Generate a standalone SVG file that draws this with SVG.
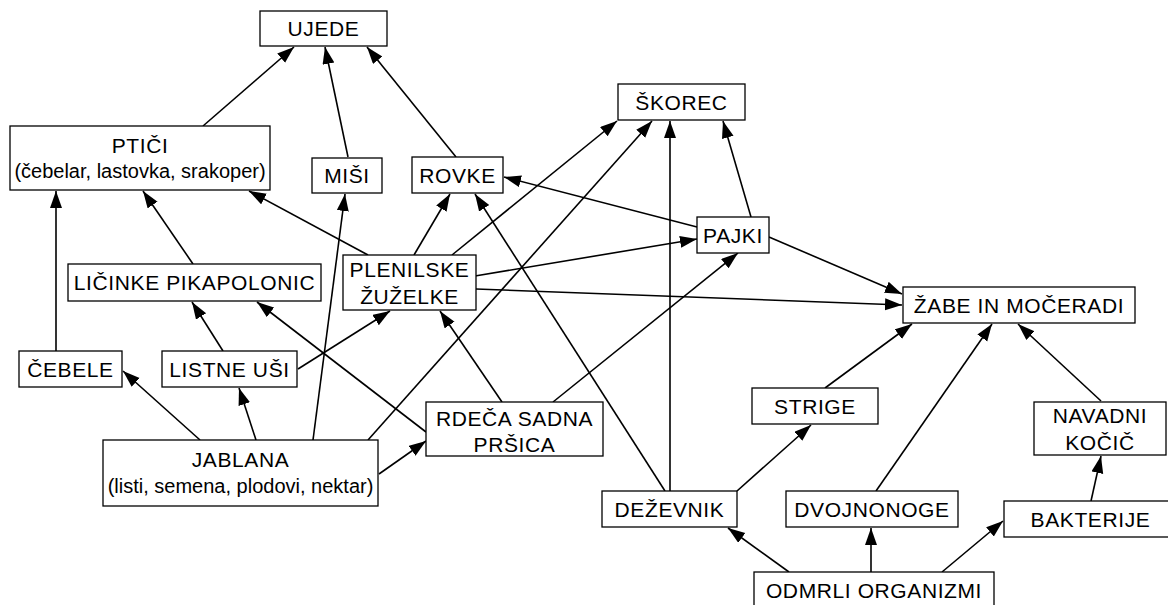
<svg xmlns="http://www.w3.org/2000/svg" width="1168" height="605" viewBox="0 0 1168 605">
<defs>
<marker id="ah" markerUnits="userSpaceOnUse" markerWidth="18" markerHeight="13" refX="17" refY="6" orient="auto">
<path d="M0,0 L17,6 L0,12 z" fill="#000"/>
</marker>
<style>
.n rect{fill:#fff;stroke:#000;stroke-width:1.3}
.n text{font-family:"Liberation Sans",Arial,sans-serif;font-size:21px;letter-spacing:0.6px;text-anchor:middle;fill:#000}
.n text.s{font-size:20px;letter-spacing:0}
#edges line{stroke:#000;stroke-width:1.6;marker-end:url(#ah)}
</style>
</defs>
<rect width="1168" height="605" fill="#fff"/>
<g id="edges">
<line x1="203" y1="126" x2="294" y2="47"/>
<line x1="348" y1="157" x2="325" y2="47"/>
<line x1="456" y1="157" x2="367" y2="47"/>
<line x1="56" y1="351" x2="56" y2="191"/>
<line x1="193" y1="264" x2="143" y2="191"/>
<line x1="368" y1="255" x2="249" y2="191"/>
<line x1="313" y1="440" x2="345" y2="194"/>
<line x1="414" y1="255" x2="450" y2="194"/>
<line x1="665" y1="491" x2="475" y2="194"/>
<line x1="697" y1="227" x2="504" y2="177"/>
<line x1="452" y1="255" x2="617" y2="121"/>
<line x1="368" y1="440" x2="652" y2="121"/>
<line x1="670" y1="491" x2="670" y2="121"/>
<line x1="751" y1="217" x2="723" y2="121"/>
<line x1="475" y1="276" x2="697" y2="239"/>
<line x1="553" y1="402" x2="738" y2="253"/>
<line x1="769" y1="237" x2="902" y2="294"/>
<line x1="476" y1="289" x2="902" y2="305"/>
<line x1="223" y1="351" x2="192" y2="302"/>
<line x1="298" y1="369" x2="390" y2="311"/>
<line x1="502" y1="402" x2="440" y2="311"/>
<line x1="426" y1="432" x2="257" y2="302"/>
<line x1="200" y1="440" x2="123" y2="371"/>
<line x1="256" y1="440" x2="239" y2="388"/>
<line x1="379" y1="474" x2="426" y2="441"/>
<line x1="825" y1="388" x2="912" y2="324"/>
<line x1="737" y1="491" x2="811" y2="425"/>
<line x1="876" y1="491" x2="992" y2="324"/>
<line x1="1101" y1="401" x2="1018" y2="324"/>
<line x1="1091" y1="501" x2="1101" y2="456"/>
<line x1="789" y1="572" x2="728" y2="528"/>
<line x1="871" y1="572" x2="871" y2="528"/>
<line x1="942" y1="572" x2="1003" y2="521"/>
</g>
<g id="ujede" class="n"><rect x="260" y="11" width="127" height="35"/><text x="323.5" y="36">UJEDE</text></g>
<g id="ptici" class="n"><rect x="10" y="126" width="260" height="64"/><text x="140" y="153">PTIČI</text><text class="s" x="140" y="178">(čebelar, lastovka, srakoper)</text></g>
<g id="misi" class="n"><rect x="312" y="158" width="70" height="35"/><text x="347" y="183">MIŠI</text></g>
<g id="rovke" class="n"><rect x="412" y="157" width="91" height="36"/><text x="457.5" y="183">ROVKE</text></g>
<g id="skorec" class="n"><rect x="618" y="84" width="127" height="36"/><text x="681.5" y="110">ŠKOREC</text></g>
<g id="pajki" class="n"><rect x="697" y="217" width="72" height="36"/><text x="733" y="243">PAJKI</text></g>
<g id="plenilske" class="n"><rect x="343" y="255" width="133" height="55"/><text x="409.5" y="277">PLENILSKE</text><text x="409.5" y="304">ŽUŽELKE</text></g>
<g id="licinke" class="n"><rect x="68" y="264" width="253" height="37"/><text x="194.5" y="290">LIČINKE PIKAPOLONIC</text></g>
<g id="cebele" class="n"><rect x="19" y="351" width="103" height="36"/><text x="70.5" y="377">ČEBELE</text></g>
<g id="listne" class="n"><rect x="162" y="351" width="135" height="36"/><text x="229.5" y="377">LISTNE UŠI</text></g>
<g id="jablana" class="n"><rect x="103" y="440" width="275" height="66"/><text x="240.5" y="467">JABLANA</text><text class="s" x="240.5" y="493">(listi, semena, plodovi, nektar)</text></g>
<g id="rdeca" class="n"><rect x="426" y="402" width="177" height="54"/><text x="514.5" y="426">RDEČA SADNA</text><text x="514.5" y="452">PRŠICA</text></g>
<g id="zabe" class="n"><rect x="903" y="287" width="232" height="36"/><text x="1019" y="313">ŽABE IN MOČERADI</text></g>
<g id="strige" class="n"><rect x="752" y="388" width="126" height="36"/><text x="815" y="414">STRIGE</text></g>
<g id="navadni" class="n"><rect x="1034" y="402" width="132" height="53"/><text x="1100" y="423">NAVADNI</text><text x="1100" y="450">KOČIČ</text></g>
<g id="dezevnik" class="n"><rect x="602" y="491" width="135" height="36"/><text x="669.5" y="517">DEŽEVNIK</text></g>
<g id="dvojnonoge" class="n"><rect x="786" y="491" width="172" height="36"/><text x="872" y="517">DVOJNONOGE</text></g>
<g id="bakterije" class="n"><rect x="1004" y="501" width="173" height="36"/><text x="1090.5" y="527">BAKTERIJE</text></g>
<g id="odmrli" class="n"><rect x="754" y="572" width="240" height="40"/><text x="874" y="598">ODMRLI ORGANIZMI</text></g>
</svg>
